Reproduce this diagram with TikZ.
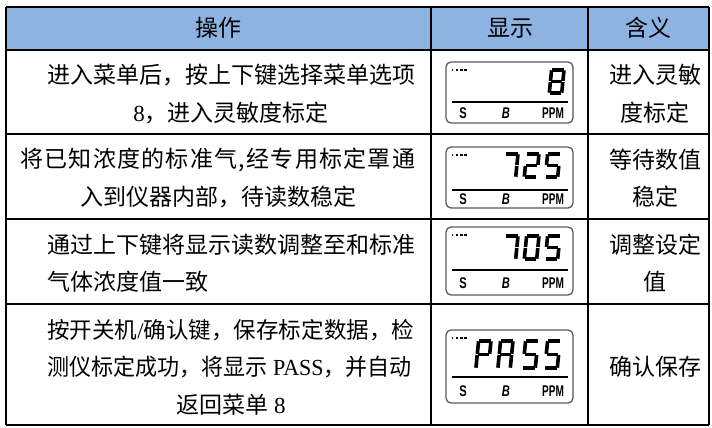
\documentclass[tikz,border=0pt]{standalone}
\usepackage{fontspec}
\setmainfont{Liberation Serif}
\newfontfamily\cjk{Noto Sans CJK SC}
\newfontfamily\lcdfont{Liberation Sans}
\definecolor{hdr}{RGB}{141,179,226}
\def\dw{16}
\def\dh{27}
\newcommand\segA{\draw[segline] (2.3,1.8)--(\dw-2.3,1.8);}
\newcommand\segG{\draw[segline] (2.3,\dh/2)--(\dw-2.3,\dh/2);}
\newcommand\segD{\draw[segline] (2.3,\dh-1.8)--(\dw-2.3,\dh-1.8);}
\newcommand\segF{\draw[segline] (1.8,2.3)--(1.8,\dh/2-0.6);}
\newcommand\segE{\draw[segline] (1.8,\dh/2+0.6)--(1.8,\dh-2.3);}
\newcommand\segB{\draw[segline] (\dw-1.8,2.3)--(\dw-1.8,\dh/2-0.6);}
\newcommand\segC{\draw[segline] (\dw-1.8,\dh/2+0.6)--(\dw-1.8,\dh-2.3);}
\def\spreadloop#1{\ifx#1\endspread\else#1\hfil\expandafter\spreadloop\fi}
\let\endspread\relax
\newcommand\spreadline[2]{\makebox[#1][s]{\spreadloop#2\endspread\unskip}}
\tikzset{
 cell/.style={font=\cjk\fontsize{23}{23}\selectfont, inner sep=0pt, anchor=center},
 cellw/.style={cell, anchor=west},
 gridline/.style={line width=1.1pt, black},
 lcdbox/.style={draw=black!65, line width=1.3pt, rounded corners=5pt},
 lcdbar/.style={line width=2.7pt},
 segline/.style={line width=3.6pt, line cap=butt},
 lcdlab/.style={font=\lcdfont\bfseries\fontsize{15.5}{15.5}\selectfont, inner sep=0pt, xscale=0.72},
 seven/.pic={\begin{scope}[xslant=0.1]\foreach \s in {#1}{\csname seg\s\endcsname}\end{scope}}
}
\newcommand\lcd[5]{%
 \draw[lcdbox] (446,#2) rectangle (573,#3);
 \draw[lcdbar] (452,#4) -- (568,#4);
 \node[lcdlab] (#1s) at (463,#5) {S};
 \node[lcdlab,font=\lcdfont\bfseries\itshape\fontsize{15.5}{15.5}\selectfont] (#1b) at (506,#5) {B};
 \node[lcdlab,xscale=0.9] (#1p) at (553,#5) {PPM};
 \fill (452.5,#2+8) circle (0.8);
 \fill (455.5,#2+6.8) rectangle +(2.8,2.6);
 \fill (459.7,#2+6.8) rectangle +(2.8,2.6);
 \fill (463.9,#2+6.8) rectangle +(2.8,2.6);
}
\begin{document}
\begin{tikzpicture}[x=1pt,y=-1pt]
\useasboundingbox (0,0) rectangle (712,428);
% header
\fill[hdr] (6,7) rectangle (709,50);
\foreach \yy in {7,50,134,219,304,425} \draw[gridline] (6,\yy) -- (709,\yy);
\foreach \xx in {6,431,588,709} \draw[gridline] (\xx,7) -- (\xx,425);
\node[cell] (h1) at (218,28) {操作};
\node[cell] (h2) at (510,28) {显示};
\node[cell] (h3) at (648,28) {含义};
% row 1
\node[cellw] (r1a) at (47,75) {进入菜单后，按上下键选择菜单选项};
\node[cell] (r1b) at (231,113) {{\rmfamily 8}，进入灵敏度标定};
\node[cell] (r1c) at (655,75) {进入灵敏};
\node[cell] (r1d) at (655,113) {度标定};
% row 2
\node[cellw] (r2a) at (20,160) {\spreadline{395pt}{将已知浓度的标准气,经专用标定罩通}};
\node[cell] (r2b) at (218,197) {入到仪器内部，待读数稳定};
\node[cell] (r2c) at (655,160) {等待数值};
\node[cell] (r2d) at (655,197) {稳定};
% row 3
\node[cellw] (r3a) at (47,245) {通过上下键将显示读数调整至和标准};
\node[cellw] (r3b) at (47,282) {气体浓度值一致};
\node[cell] (r3c) at (655,245) {调整设定};
\node[cell] (r3d) at (655,282) {值};
% row 4
\node[cellw] (r4a) at (47,330) {\resizebox{367pt}{!}{按开关机{\rmfamily /}确认键，保存标定数据，检}};
\node[cellw] (r4b) at (47,367) {\scalebox{0.958}[1]{测仪标定成功，将显示{\rmfamily\ PASS}，并自动}};
\node[cell] (r4c) at (231,405) {返回菜单{\rmfamily\ 8}};
\node[cell] (r4d) at (655,367) {确认保存};
% LCD displays
\lcd{d1}{62}{123}{102}{113}
\pic at (550,68) {seven={A,B,C,D,E,F,G}};
\lcd{d2}{147}{208}{190}{199}
\pic at (504,152) {seven={A,B,C}};
\pic at (525,152) {seven={A,B,G,E,D}};
\pic at (546,152) {seven={A,F,G,C,D}};
\lcd{d3}{227}{295}{270}{283}
\pic at (504,234) {seven={A,B,C}};
\pic at (525,234) {seven={A,B,C,D,E,F}};
\pic at (546,234) {seven={A,F,G,C,D}};
\def\dh{31}
\lcd{d4}{330}{403}{377}{391}
\pic at (477,339) {seven={A,B,E,F,G}};
\pic at (499,339) {seven={A,B,C,E,F,G}};
\pic at (524,339) {seven={A,F,G,C,D}};
\pic at (546,339) {seven={A,F,G,C,D}};
\end{tikzpicture}
\end{document}
